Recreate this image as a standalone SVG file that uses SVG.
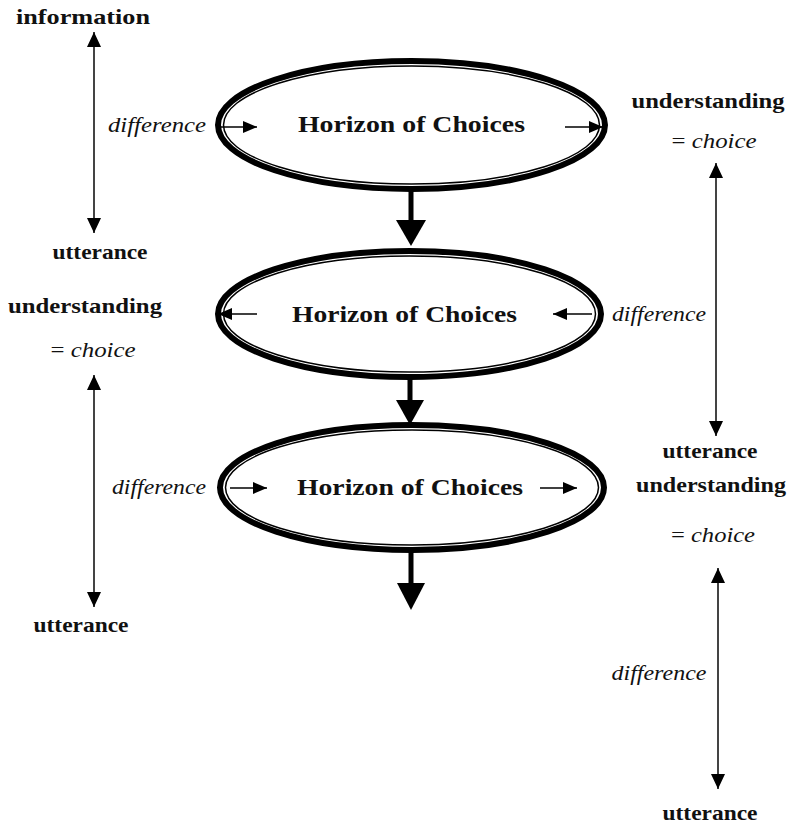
<svg xmlns="http://www.w3.org/2000/svg" width="796" height="827" viewBox="0 0 796 827">
<style>
.b{font-family:"Liberation Serif","Times New Roman",serif;font-weight:bold;font-size:21px;fill:#111}
.h{font-family:"Liberation Serif","Times New Roman",serif;font-weight:bold;font-size:24px;fill:#111}
.i{font-family:"Liberation Serif","Times New Roman",serif;font-style:italic;font-size:21px;fill:#111}
.n{font-family:"Liberation Serif","Times New Roman",serif;font-size:21px;fill:#111}
.outer{fill:#fff;stroke:#000;stroke-width:6}
.inner{fill:none;stroke:#000;stroke-width:1.5}
.thin{stroke:#000;stroke-width:1.6;fill:none}
.vert{stroke:#444;stroke-width:2;fill:none}
</style>
<defs>
<marker id="sm" viewBox="0 0 14 12" refX="14" refY="6" markerWidth="14" markerHeight="12" markerUnits="userSpaceOnUse" orient="auto-start-reverse"><path d="M0,0L14,6L0,12z" fill="#000"/></marker>
<marker id="vh" viewBox="0 0 15 14" refX="15" refY="7" markerWidth="15" markerHeight="14" markerUnits="userSpaceOnUse" orient="auto-start-reverse"><path d="M0,0L15,7L0,14z" fill="#000"/></marker>
</defs>
<rect width="796" height="827" fill="#fff"/>

<g id="node1">
<ellipse class="outer" cx="411.5" cy="125" rx="193.5" ry="64"/>
<ellipse class="inner" cx="411.5" cy="125" rx="188" ry="59"/>
<text class="h" x="411.5" y="132" text-anchor="middle" textLength="227" lengthAdjust="spacingAndGlyphs">Horizon of Choices</text>
</g>
<g id="node2">
<ellipse class="outer" cx="409.5" cy="314" rx="191.5" ry="63"/>
<ellipse class="inner" cx="409.5" cy="314" rx="186" ry="58"/>
<text class="h" x="404.5" y="322" text-anchor="middle" textLength="225" lengthAdjust="spacingAndGlyphs">Horizon of Choices</text>
</g>
<g id="node3">
<ellipse class="outer" cx="412" cy="487.5" rx="192" ry="62.5"/>
<ellipse class="inner" cx="412" cy="487.5" rx="186.5" ry="57.5"/>
<text class="h" x="410" y="495" text-anchor="middle" textLength="226" lengthAdjust="spacingAndGlyphs">Horizon of Choices</text>
</g>

<g id="labels">
<text class="b" x="83" y="24" text-anchor="middle" textLength="134" lengthAdjust="spacingAndGlyphs">information</text>
<text class="b" x="100" y="259" text-anchor="middle" textLength="95" lengthAdjust="spacingAndGlyphs">utterance</text>
<text class="i" x="157" y="132" text-anchor="middle" textLength="98" lengthAdjust="spacingAndGlyphs">difference</text>

<text class="b" x="708" y="108" text-anchor="middle" textLength="153" lengthAdjust="spacingAndGlyphs">understanding</text>
<text class="n" x="714" y="148" text-anchor="middle" textLength="85" lengthAdjust="spacingAndGlyphs">= <tspan font-style="italic">choice</tspan></text>
<text class="i" x="659" y="321" text-anchor="middle" textLength="94" lengthAdjust="spacingAndGlyphs">difference</text>
<text class="b" x="710" y="458" text-anchor="middle" textLength="95" lengthAdjust="spacingAndGlyphs">utterance</text>

<text class="b" x="85" y="313" text-anchor="middle" textLength="154" lengthAdjust="spacingAndGlyphs">understanding</text>
<text class="n" x="93" y="357" text-anchor="middle" textLength="85" lengthAdjust="spacingAndGlyphs">= <tspan font-style="italic">choice</tspan></text>
<text class="i" x="159" y="494" text-anchor="middle" textLength="94" lengthAdjust="spacingAndGlyphs">difference</text>
<text class="b" x="81" y="632" text-anchor="middle" textLength="95" lengthAdjust="spacingAndGlyphs">utterance</text>

<text class="b" x="711" y="492" text-anchor="middle" textLength="150" lengthAdjust="spacingAndGlyphs">understanding</text>
<text class="n" x="713" y="542" text-anchor="middle" textLength="84" lengthAdjust="spacingAndGlyphs">= <tspan font-style="italic">choice</tspan></text>
<text class="i" x="659" y="680" text-anchor="middle" textLength="95" lengthAdjust="spacingAndGlyphs">difference</text>
<text class="b" x="710" y="820" text-anchor="middle" textLength="95" lengthAdjust="spacingAndGlyphs">utterance</text>
</g>

<g id="connectors">
<rect x="408.5" y="190" width="5" height="32" fill="#000"/>
<polygon points="396,220 426,220 411,246" fill="#000"/>
<rect x="407.5" y="378" width="5" height="24" fill="#000"/>
<polygon points="396,400 424,400 410,425" fill="#000"/>
<rect x="408.5" y="552" width="5" height="33" fill="#000"/>
<polygon points="397,583 425,583 411,610" fill="#000"/>

<line class="thin" x1="220" y1="127" x2="257" y2="127" marker-end="url(#sm)"/>
<line class="thin" x1="565" y1="127" x2="603" y2="127" marker-end="url(#sm)"/>
<line class="thin" x1="257" y1="314" x2="218" y2="314" marker-end="url(#sm)"/>
<line class="thin" x1="592" y1="314" x2="553" y2="314" marker-end="url(#sm)"/>
<line class="thin" x1="230" y1="488" x2="267" y2="488" marker-end="url(#sm)"/>
<line class="thin" x1="540" y1="488" x2="577" y2="488" marker-end="url(#sm)"/>

<line class="vert" x1="94" y1="32" x2="94" y2="233" marker-start="url(#vh)" marker-end="url(#vh)"/>
<line class="vert" x1="716" y1="163" x2="716" y2="436" marker-start="url(#vh)" marker-end="url(#vh)"/>
<line class="vert" x1="94" y1="375" x2="94" y2="607" marker-start="url(#vh)" marker-end="url(#vh)"/>
<line class="vert" x1="718" y1="568" x2="718" y2="789" marker-start="url(#vh)" marker-end="url(#vh)"/>
</g>
</svg>
